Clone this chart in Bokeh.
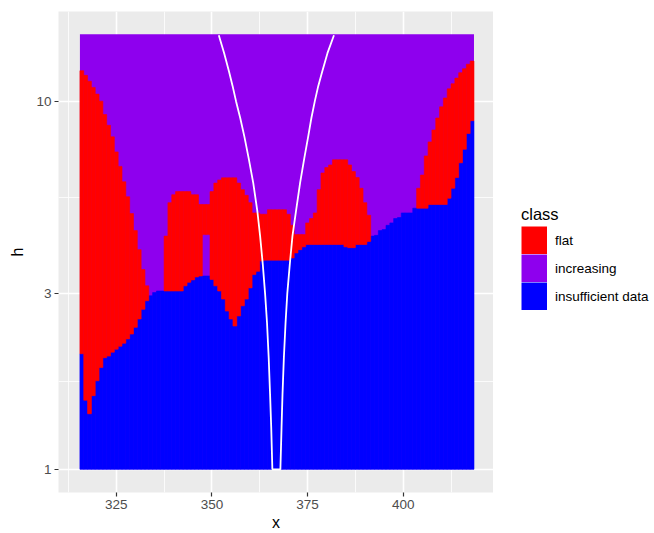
from bokeh.plotting import figure
from bokeh.models import (ColumnDataSource, FixedTicker, BasicTickFormatter,
                          Legend, LegendItem, Range1d)
from bokeh.layouts import row
from bokeh.embed import file_html
from bokeh.resources import INLINE
import math

# ---------------- data ----------------
x_cols = list(range(316, 419))          # raster column centres (x)
h_min = 1.0                              # bottom of raster grid
h_top = 15.2                             # top of raster grid

# upper edge of "insufficient data" (blue) per column
blue_top = [
    2.06, 1.54, 1.415, 1.585, 1.74, 1.89, 2.01, 2.03, 2.08, 2.12,      # 316-325
    2.16, 2.20, 2.26, 2.33, 2.43, 2.56, 2.72, 2.87, 2.96, 3.02,        # 326-335
    3.05, 3.05, 3.05, 3.05, 3.05, 3.05, 3.05, 3.15, 3.22, 3.27,        # 336-345
    3.33, 3.35, 3.35, 3.35, 3.28, 3.15, 3.05, 2.90, 2.69, 2.56,        # 346-355
    2.45, 2.61, 2.78, 2.90, 3.11, 3.38, 3.45, 3.68, 3.70, 3.70,        # 356-365
    3.70, 3.70, 3.70, 3.70, 3.70, 3.75, 3.87, 3.95, 4.02, 4.08,        # 366-375
    4.08, 4.08, 4.08, 4.08, 4.08, 4.08, 4.08, 4.08, 4.08, 4.02,        # 376-385
    4.00, 4.00, 4.08, 4.08, 4.08, 4.16, 4.30, 4.32, 4.45, 4.48,        # 386-395
    4.60, 4.67, 4.80, 4.83, 4.97, 4.97, 4.97, 5.12, 5.12, 5.12,        # 396-405
    5.12, 5.24, 5.24, 5.24, 5.24, 5.24, 5.45, 5.80, 6.20, 6.80,        # 406-415
    7.40, 8.17, 8.85,                                                  # 416-418
]

# upper edge of "flat" (red) per column; None = no flat cells in column
red_top = [
    12.1, 11.75, 11.33, 10.9, 10.45, 10.0, 9.2, 8.6, 8.0, 7.28,        # 316-325
    6.65, 6.04, 5.5, 4.95, 4.45, 3.95, 3.49, 3.15, None, None,         # 326-335
    None, None, 4.30, 5.3, 5.57, 5.68, 5.68, 5.68, 5.68, 5.57,         # 336-345
    5.57, 5.24, 5.24, 5.24, 5.68, 5.99, 6.11, 6.19, 6.19, 6.19,        # 346-355
    6.19, 5.99, 5.75, 5.55, 5.3, 4.97, 4.97, 4.93, 4.93, 5.07,         # 356-365
    5.07, 5.07, 5.07, 5.07, 4.93, 4.6, 4.34, 4.34, 4.34, 4.67,         # 366-375
    4.8, 4.97, 5.75, 6.38, 6.6, 6.71, 6.93, 6.93, 6.93, 6.93,          # 376-385
    6.71, 6.44, 6.2, 5.8, 5.3, 4.9, None, None, None, None,            # 386-395
    None, None, None, None, None, None, None, None, 5.8, 6.3,          # 396-405
    7.1, 7.75, 8.35, 9.0, 9.65, 10.2, 10.8, 11.15, 11.55, 11.95,       # 406-415
    12.25, 12.6, 12.85,                                                # 416-418
]

# columns where "flat" starts above a thin "increasing" gap
red_lift = {348: 4.34, 349: 4.34}

# white outline curve: left branch (top -> bottom), right branch (bottom -> top)
left_h = [15.1, 13.5, 12.0, 11.0, 10.0, 9.0, 8.0, 7.0, 6.0, 5.0, 4.3, 3.6, 3.0, 2.5, 2.0, 1.6, 1.3, 1.0]
left_x = [351.8, 353.2, 354.5, 355.4, 356.3, 357.4, 358.5, 359.6, 360.8, 361.9,
          362.6, 363.3, 363.9, 364.4, 364.85, 365.2, 365.5, 365.8]
right_h = [1.0, 1.3, 1.6, 2.0, 2.5, 3.0, 3.6, 4.3, 5.0, 6.0, 7.0, 8.0, 9.0, 10.0, 11.0, 12.0, 13.5, 15.1]
right_x = [367.9, 368.2, 368.45, 368.8, 369.25, 369.7, 370.35, 371.05, 371.95, 373.05,
           374.15, 375.15, 376.0, 376.9, 377.8, 378.8, 380.2, 381.9]

classes = ["flat", "increasing", "insufficient data"]
class_colors = {"flat": "#FF0000", "increasing": "#8E00EE", "insufficient data": "#0000FF"}

x_ticks = [325, 350, 375, 400]
x_minor = [312.5, 337.5, 362.5, 387.5, 412.5]
y_ticks = [1, 3, 10]
y_minor = [math.sqrt(3), math.sqrt(30)]

# ---------------- build sources ----------------
half = 0.5
purple_src = ColumnDataSource(dict(
    left=[x_cols[0] - half], right=[x_cols[-1] + half], bottom=[h_min], top=[h_top]))
blue_src = ColumnDataSource(dict(
    left=[c - half for c in x_cols], right=[c + half for c in x_cols],
    bottom=[h_min] * len(x_cols), top=blue_top))
rl, rr, rb, rt = [], [], [], []
for c, b, t in zip(x_cols, blue_top, red_top):
    if t is None:
        continue
    base = red_lift.get(c, b)
    if t > base:
        rl.append(c - half); rr.append(c + half); rb.append(base); rt.append(t)
red_src = ColumnDataSource(dict(left=rl, right=rr, bottom=rb, top=rt))

# ---------------- main figure ----------------
W, H = 654, 533
FL, FR, FT, FB = 58, 493, 11, 494
p = figure(width=FR, height=H, output_backend="svg", toolbar_location=None,
           x_range=Range1d(309.9, 423.6), y_range=Range1d(0.865, 17.52),
           y_axis_type="log",
           min_border_left=FL, min_border_right=0,
           min_border_top=FT, min_border_bottom=H - FB)
p.title.visible = False
p.background_fill_color = "#EBEBEB"
p.border_fill_color = "white"
p.outline_line_color = None

p.xaxis.ticker = FixedTicker(ticks=x_ticks, minor_ticks=x_minor)
p.yaxis.ticker = FixedTicker(ticks=y_ticks, minor_ticks=y_minor)
p.yaxis.formatter = BasicTickFormatter()
p.xgrid.ticker = FixedTicker(ticks=x_ticks, minor_ticks=x_minor)
p.ygrid.ticker = FixedTicker(ticks=y_ticks, minor_ticks=y_minor)
for g in (p.xgrid, p.ygrid):
    g.grid_line_color = "white"
    g.grid_line_width = 1.6
    g.minor_grid_line_color = "white"
    g.minor_grid_line_width = 0.8

for ax in (p.xaxis, p.yaxis):
    ax.axis_line_color = None
    ax.major_tick_line_color = "#333333"
    ax.major_tick_line_width = 1.2
    ax.major_tick_in = 0
    ax.major_tick_out = 4
    ax.minor_tick_line_color = None
    ax.major_label_text_color = "#4D4D4D"
    ax.major_label_text_font = "Liberation Sans"
    ax.major_label_text_font_size = "13.5px"
    ax.axis_label_text_font = "Liberation Sans"
    ax.axis_label_text_font_size = "16px"
    ax.axis_label_text_font_style = "normal"
    ax.axis_label_text_color = "black"

p.xaxis.major_label_standoff = 3
p.xaxis.axis_label = "x"
p.xaxis.axis_label_standoff = 2
p.yaxis.major_label_standoff = 3
p.yaxis.axis_label = "h"
p.yaxis.axis_label_standoff = 7

kw = dict(line_width=0.6)
p.quad(left="left", right="right", bottom="bottom", top="top", source=purple_src,
       fill_color=class_colors["increasing"], line_color=None)
p.quad(left="left", right="right", bottom="bottom", top="top", source=blue_src,
       fill_color=class_colors["insufficient data"],
       line_color=class_colors["insufficient data"], **kw)
p.quad(left="left", right="right", bottom="bottom", top="top", source=red_src,
       fill_color=class_colors["flat"], line_color=class_colors["flat"], **kw)

curve_x = left_x + right_x
curve_h = left_h + right_h
p.line(curve_x, curve_h, line_color="white", line_width=1.8)

# ---------------- legend panel (separate figure to the right) ----------------
LW = W - FR
pl = figure(width=LW, height=H, output_backend="svg", toolbar_location=None,
            x_range=Range1d(0, 1), y_range=Range1d(0, 1),
            x_axis_location=None, y_axis_location=None, min_border=0)
pl.title.visible = False
pl.grid.visible = False
pl.outline_line_color = None
pl.background_fill_color = "white"
pl.border_fill_color = "white"

# key swatches: thick butt-capped lines (data kept outside the visible range)
items = []
for c in classes:
    r = pl.line(x=[5, 6], y=[5, 5], line_color=class_colors[c], line_width=28,
                line_cap="butt")
    items.append(LegendItem(label=c, renderers=[r]))

legend = Legend(items=items, location=(28, 182), title="class",
                glyph_width=26, glyph_height=28, label_height=28, spacing=0,
                padding=0, margin=0, border_line_color=None, background_fill_alpha=0,
                label_standoff=8, title_standoff=2,
                label_text_font="Liberation Sans", label_text_font_size="13.5px",
                label_text_color="black",
                title_text_font="Liberation Sans", title_text_font_size="16.5px",
                title_text_font_style="normal", title_text_color="black")
pl.add_layout(legend)

layout = row(p, pl, spacing=0)
open("out.html", "w").write(file_html(layout, INLINE))
